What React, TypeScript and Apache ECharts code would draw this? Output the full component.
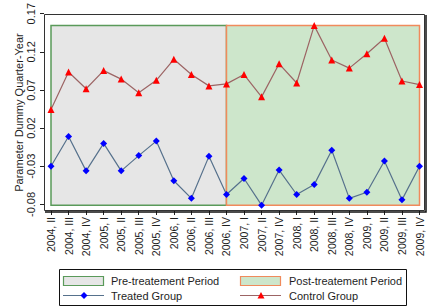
import React, { useEffect, useRef } from "react";
import * as echarts from "echarts";

const categories = [
  "2004, II", "2004, III", "2004, IV", "2005, I", "2005, II", "2005, III", "2005, IV",
  "2006, I", "2006, II", "2006, III", "2006, IV", "2007, I", "2007, II", "2007, IV",
  "2008, I", "2008, II", "2008, III", "2008, IV", "2009, I", "2009, II", "2009, III", "2009, IV",
];
const treated = [
  -0.030, 0.009, -0.036, 0.000, -0.036, -0.016, 0.003, -0.049, -0.072, -0.017, -0.067,
  -0.046, -0.081, -0.035, -0.067, -0.054, -0.009, -0.072, -0.064, -0.023, -0.074, -0.030,
];
const control = [
  0.0445, 0.0936, 0.0716, 0.0954, 0.0843, 0.0665, 0.0827, 0.1102, 0.0903, 0.0754, 0.078,
  0.0903, 0.061, 0.1043, 0.0792, 0.1544, 0.1094, 0.0987, 0.1175, 0.1378, 0.0818, 0.0771,
];
const yTicks = [-0.08, -0.03, 0.02, 0.07, 0.12, 0.17];
const treatmentStart = 10;
const legendLabels = ["Pre-treatement Period", "Post-treatement Period", "Treated Group", "Control Group"];
const yTitle = "Parameter Dummy Quarter-Year";

const FONT = "'Liberation Sans', Arial, sans-serif";
const TXT = "#1e1e1e";
const PRE_FILL = "#e6e6e6";
const PRE_BORDER = "#5a9a5a";
const POST_FILL = "#cde6cb";
const POST_BORDER = "#f08a5c";
const TREAT_LINE = "#56718c";
const TREAT_MARK = "#0000ff";
const CTRL_LINE = "#9c6464";
const CTRL_MARK = "#ff0000";

export default function App() {
  const ref = useRef<HTMLDivElement>(null);
  useEffect(() => {
    const chart = echarts.init(ref.current!, null, { renderer: "svg" });
    const xIdx = categories.map((_, i) => i);
    const top = Math.max(...control, ...treated);
    const bottom = Math.min(...control, ...treated);
    const lx1 = 63, lx2 = 240, row1 = 281, row2 = 295.5;
    chart.setOption({
      animation: false,
      grid: { left: 44, right: 11, top: 9, bottom: 96 },
      xAxis: {
        type: "value",
        min: -0.399,
        max: 21.313,
        axisLine: { show: false, onZero: false },
        splitLine: { show: false },
        axisTick: { show: true, length: 4, customValues: xIdx, lineStyle: { color: "#222" } },
        axisLabel: {
          customValues: xIdx,
          rotate: 90,
          margin: 6,
          formatter: (v: number) => categories[Math.round(v)] ?? "",
          fontSize: 10.5,
          fontFamily: FONT,
          color: TXT,
        },
      },
      yAxis: {
        type: "value",
        min: -0.0886,
        max: 0.17,
        axisLine: { show: false, onZero: false },
        splitLine: { show: false },
        axisTick: { show: true, length: 4, customValues: yTicks, lineStyle: { color: "#222" } },
        axisLabel: {
          customValues: yTicks,
          rotate: 90,
          margin: 8,
          formatter: (v: number) => v.toFixed(2),
          fontSize: 11,
          fontFamily: FONT,
          color: TXT,
        },
      },
      series: [
        {
          type: "line",
          name: legendLabels[2],
          data: treated.map((v, i) => [i, v]),
          symbol: "diamond",
          symbolSize: 7,
          itemStyle: { color: TREAT_MARK },
          lineStyle: { color: TREAT_LINE, width: 1.2 },
          z: 3,
          markArea: {
            silent: true,
            data: [
              [
                { xAxis: 0, yAxis: bottom, itemStyle: { color: PRE_FILL, borderColor: PRE_BORDER, borderWidth: 1.5 } },
                { xAxis: treatmentStart, yAxis: top },
              ],
              [
                { xAxis: treatmentStart, yAxis: bottom, itemStyle: { color: POST_FILL, borderColor: POST_BORDER, borderWidth: 1.5 } },
                { xAxis: categories.length - 1, yAxis: top },
              ],
            ],
          },
        },
        {
          type: "line",
          name: legendLabels[3],
          data: control.map((v, i) => [i, v]),
          symbol: "triangle",
          symbolSize: 7,
          itemStyle: { color: CTRL_MARK },
          lineStyle: { color: CTRL_LINE, width: 1.2 },
          z: 4,
        },
      ],
      graphic: [
        { type: "rect", shape: { x: 44.5, y: 14.5, width: 380, height: 196 }, style: { fill: "none", stroke: "#333", lineWidth: 1 }, z: 10 },
        { type: "polyline", shape: { points: [[426, 15], [426, 212], [45, 212]] }, style: { fill: "none", stroke: "#111", lineWidth: 1.5 }, z: 10 },
        {
          type: "text", x: 19, y: 112.5, rotation: Math.PI / 2,
          style: { text: yTitle, fontSize: 11, fontFamily: FONT, fill: TXT, align: "center", verticalAlign: "middle" },
        },
        { type: "rect", shape: { x: 59.5, y: 269.5, width: 347, height: 36 }, style: { fill: "#fff", stroke: "#111", lineWidth: 1 } },
        { type: "rect", shape: { x: lx1 + 0.5, y: 276.5, width: 40, height: 9 }, style: { fill: PRE_FILL, stroke: PRE_BORDER, lineWidth: 1.2 } },
        { type: "rect", shape: { x: lx2 + 0.5, y: 276.5, width: 40, height: 9 }, style: { fill: POST_FILL, stroke: POST_BORDER, lineWidth: 1.2 } },
        { type: "line", shape: { x1: lx1, y1: row2, x2: lx1 + 41, y2: row2 }, style: { stroke: TREAT_LINE, lineWidth: 1.2 } },
        { type: "polygon", shape: { points: [[lx1 + 21, row2 - 3.5], [lx1 + 24.5, row2], [lx1 + 21, row2 + 3.5], [lx1 + 17.5, row2]] }, style: { fill: TREAT_MARK } },
        { type: "line", shape: { x1: lx2, y1: row2, x2: lx2 + 41, y2: row2 }, style: { stroke: CTRL_LINE, lineWidth: 1.2 } },
        { type: "polygon", shape: { points: [[lx2 + 21, row2 - 3.5], [lx2 + 24.5, row2 + 3], [lx2 + 17.5, row2 + 3]] }, style: { fill: CTRL_MARK } },
        { type: "text", x: 111, y: row1, style: { text: legendLabels[0], fontSize: 11, fontFamily: FONT, fill: TXT, verticalAlign: "middle" } },
        { type: "text", x: 289, y: row1, style: { text: legendLabels[1], fontSize: 11, fontFamily: FONT, fill: TXT, verticalAlign: "middle" } },
        { type: "text", x: 111, y: row2, style: { text: legendLabels[2], fontSize: 11, fontFamily: FONT, fill: TXT, verticalAlign: "middle" } },
        { type: "text", x: 289, y: row2, style: { text: legendLabels[3], fontSize: 11, fontFamily: FONT, fill: TXT, verticalAlign: "middle" } },
      ],
    });
    return () => chart.dispose();
  }, []);
  return <div ref={ref} style={{ width: 436, height: 307, position: "absolute", left: 0, top: 0 }} />;
}
